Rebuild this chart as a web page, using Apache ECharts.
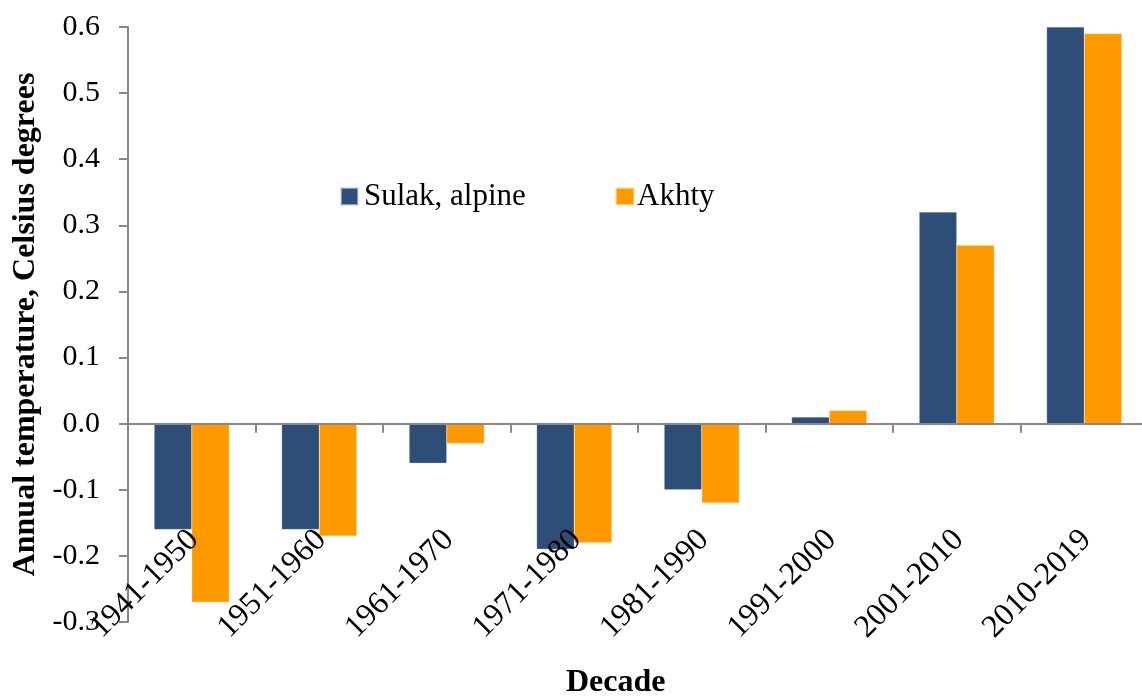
<!DOCTYPE html>
<html>
<head>
<meta charset="utf-8">
<script src="https://cdn.jsdelivr.net/npm/echarts@6/dist/echarts.min.js"></script>
<style>
  html, body { margin: 0; padding: 0; background: #ffffff; }
  #chart { width: 1142px; height: 699px; }
</style>
</head>
<body>
<div id="chart"></div>
<script>
// Decadal annual temperature anomalies, °C
const decades = ['1941-1950', '1951-1960', '1961-1970', '1971-1980', '1981-1990', '1991-2000', '2001-2010', '2010-2019'];
const sulakAlpine = [-0.16, -0.16, -0.06, -0.19, -0.10, 0.01, 0.32, 0.60];
const akhty = [-0.27, -0.17, -0.03, -0.18, -0.12, 0.02, 0.27, 0.59];
const seriesNames = ['Sulak, alpine', 'Akhty'];

const FONT = '"Liberation Serif", "Times New Roman", serif';
const AXIS_GREY = '#888888';

const chart = echarts.init(document.getElementById('chart'), null, { renderer: 'canvas' });

chart.setOption({
  backgroundColor: '#ffffff',
  animation: false,
  textStyle: { fontFamily: FONT, color: '#000000' },
  grid: { left: 128, top: 27, width: 1020, height: 595, containLabel: false, outerBoundsMode: 'none' },
  legend: [
    {
      data: [seriesNames[0]],
      left: 340, top: 181, padding: 0,
      itemWidth: 17, itemHeight: 17, itemGap: 6,
      icon: 'rect',
      textStyle: { fontFamily: FONT, fontSize: 31, color: '#000000', padding: [0, 0, 0, 1] }
    },
    {
      data: [seriesNames[1]],
      left: 615, top: 181, padding: 0,
      itemWidth: 18, itemHeight: 17,
      icon: 'rect',
      textStyle: { fontFamily: FONT, fontSize: 31, color: '#000000', padding: [0, 0, 0, -2] }
    }
  ],
  xAxis: {
    type: 'category',
    data: decades,
    z: 5,
    axisLine: { onZero: true, lineStyle: { color: AXIS_GREY, width: 2 } },
    axisTick: { show: true, length: 9, inside: false, alignWithLabel: false, lineStyle: { color: AXIS_GREY, width: 2 } },
    axisLabel: {
      rotate: 45,
      margin: -85,
      padding: [0, -3, 0, 0],
      fontFamily: FONT,
      fontSize: 32,
      color: '#000000',
      interval: 0
    },
    splitLine: { show: false }
  },
  yAxis: {
    type: 'value',
    min: -0.3,
    max: 0.6,
    interval: 0.1,
    name: 'Annual temperature, Celsius degrees',
    nameLocation: 'middle',
    nameGap: 77,
    nameTextStyle: { fontFamily: FONT, fontSize: 32, fontWeight: 'bold', color: '#000000' },
    axisLine: { show: true, lineStyle: { color: AXIS_GREY, width: 2 } },
    axisTick: { show: true, length: 9, lineStyle: { color: AXIS_GREY, width: 2 } },
    axisLabel: {
      margin: 28,
      fontFamily: FONT,
      fontSize: 30,
      color: '#000000',
      formatter: v => v.toFixed(1)
    },
    splitLine: { show: false }
  },
  graphic: [
    {
      type: 'text',
      left: 566,
      top: 667,
      style: { text: 'Decade', font: 'bold 32px ' + FONT, fill: '#000000' }
    }
  ],
  series: [
    {
      name: seriesNames[0],
      type: 'bar',
      data: sulakAlpine,
      barGap: '0%',
      barCategoryGap: '41%',
      itemStyle: { color: '#2D4E76', borderColor: 'rgba(200,210,225,0.6)', borderWidth: 0.5 }
    },
    {
      name: seriesNames[1],
      type: 'bar',
      data: akhty,
      barGap: '0%',
      barCategoryGap: '41%',
      itemStyle: { color: '#FF9900', borderColor: 'rgba(255,230,190,0.6)', borderWidth: 0.5 }
    }
  ]
});
</script>
</body>
</html>
